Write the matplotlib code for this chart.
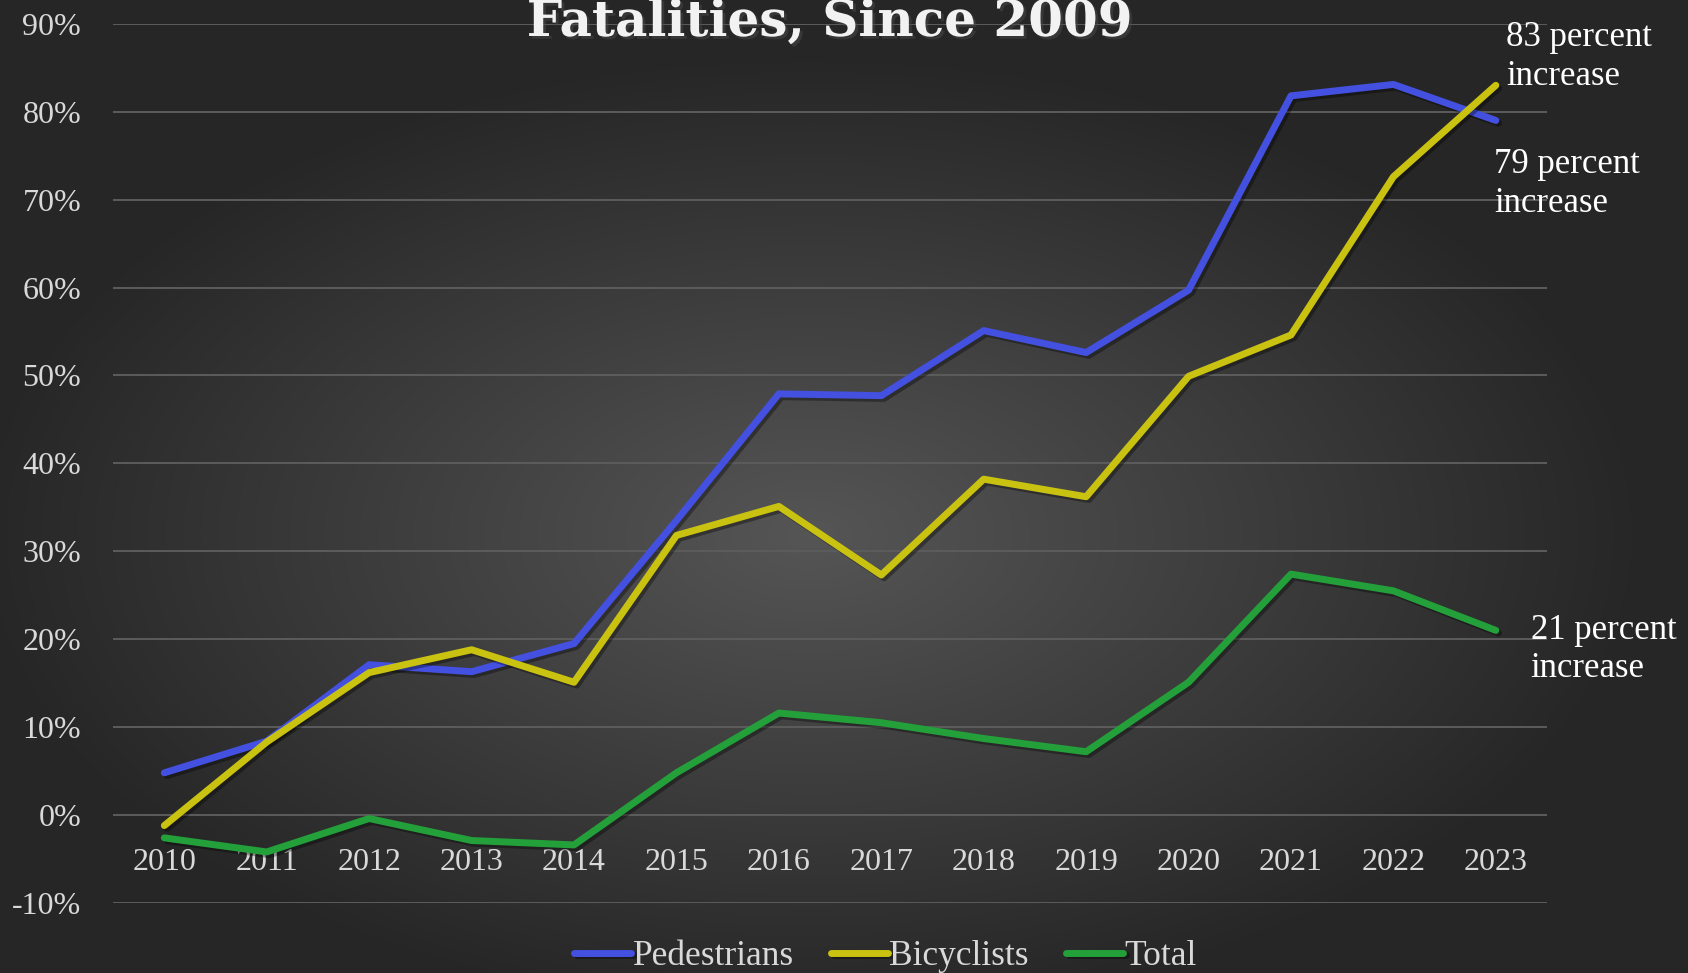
import numpy as np
import matplotlib.pyplot as plt
import matplotlib.patheffects as pe

years = ['2010', '2011', '2012', '2013', '2014', '2015', '2016',
         '2017', '2018', '2019', '2020', '2021', '2022', '2023']
pedestrians = [4.8, 8.4, 17.1, 16.3, 19.5, 33.5, 47.9, 47.7, 55.1, 52.6, 59.7, 81.8, 83.1, 79.0]
bicyclists = [-1.2, 8.3, 16.2, 18.8, 15.1, 31.8, 35.1, 27.3, 38.2, 36.2, 49.9, 54.6, 72.6, 83.0]
total = [-2.6, -4.2, -0.4, -2.9, -3.4, 4.8, 11.6, 10.5, 8.7, 7.2, 15.1, 27.4, 25.5, 21.0]
y_ticks = [-10, 0, 10, 20, 30, 40, 50, 60, 70, 80, 90]

FONT = 'Liberation Serif'
plt.rcParams['font.family'] = FONT

fig = plt.figure(figsize=(16.88, 9.73), dpi=100)

# radial gradient background
bg = fig.add_axes([0, 0, 1, 1], zorder=-10)
gx, gy = np.meshgrid(np.linspace(0, 1, 400), np.linspace(0, 1, 240))
r = np.sqrt(((gx - 0.48) / 0.75) ** 2 + ((gy - 0.55) / 0.75) ** 2)
shade = np.clip(0.335 - 0.28 * r, 0.15, 0.335)
bg.imshow(np.dstack([shade] * 3), aspect='auto', extent=[0, 1, 0, 1], interpolation='bilinear')
bg.axis('off')

ax = fig.add_axes([0.067, 0.072, 0.8495, 0.9036])
ax.patch.set_alpha(0)
x = np.arange(len(years))

shadow = [pe.SimpleLineShadow(offset=(2, -2), shadow_color='black', alpha=0.35), pe.Normal()]
ax.plot(x, pedestrians, color='#4350E0', lw=5, solid_capstyle='round', label='Pedestrians', path_effects=shadow)
ax.plot(x, bicyclists, color='#C9C211', lw=5, solid_capstyle='round', label='Bicyclists', path_effects=shadow)
ax.plot(x, total, color='#23A03A', lw=5, solid_capstyle='round', label='Total', path_effects=shadow)

ax.set_xlim(-0.5, len(years) - 0.5)
ax.set_ylim(-10, 90)
ax.set_yticks(y_ticks)
ax.set_yticklabels([f'{v}%' for v in y_ticks])
ax.set_xticks(x)
ax.set_xticklabels(years)
ax.grid(axis='y', color='#5c5c5c', lw=1.4)
ax.set_axisbelow(True)
for s in ax.spines.values():
    s.set_visible(False)
ax.spines['bottom'].set_position(('data', 0))
ax.tick_params(axis='both', length=0, colors='#d9d9d9', labelsize=23)
ax.tick_params(axis='y', pad=23)
ax.tick_params(axis='x', pad=24)

# end labels
note = dict(color='white', fontsize=25, va='center', ha='left', linespacing=1.22, clip_on=False)
ax.text(13.1, 86.2, '83 percent\nincrease', **note)
ax.text(12.98, 71.8, '79 percent\nincrease', **note)
ax.text(13.34, 18.8, '21 percent\nincrease', **note)

fig.text(0.4915, 0.963, 'Fatalities, Since 2009', color='#f2f2f2', fontsize=36,
         fontweight='bold', family='DejaVu Serif', ha='center', va='baseline',
         path_effects=[pe.withSimplePatchShadow(offset=(2, -2), alpha=0.5)])

leg = fig.legend(loc='center', bbox_to_anchor=(0.5246, 0.017), ncol=3, frameon=False,
                 fontsize=25.5, handlelength=1.6, handletextpad=0.05, columnspacing=1.05,
                 labelcolor='#d9d9d9')

fig.savefig('out.png', dpi=100)
